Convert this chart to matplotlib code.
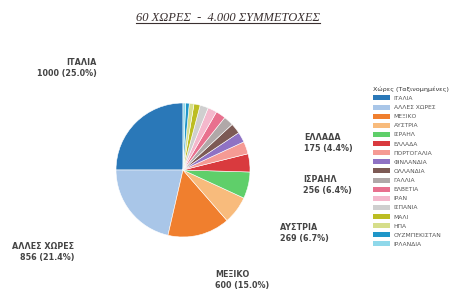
import matplotlib
matplotlib.use("Agg")
import matplotlib.pyplot as plt
from matplotlib.lines import Line2D

countries = ["ΙΤΑΛΙΑ", "ΑΛΛΕΣ ΧΩΡΕΣ", "ΜΕΞΙΚΟ", "ΑΥΣΤΡΙΑ", "ΙΣΡΑΗΛ", "ΕΛΛΑΔΑ",
             "ΠΟΡΤΟΓΑΛΙΑ", "ΦΙΝΛΑΝΔΙΑ", "ΟΛΛΑΝΔΙΑ", "ΓΑΛΛΙΑ", "ΕΛΒΕΤΙΑ", "ΙΡΑΝ",
             "ΙΣΠΑΝΙΑ", "ΜΑΛΙ", "ΗΠΑ", "ΟΥΖΜΠΕΚΙΣΤΑΝ", "ΙΡΛΑΝΔΙΑ"]
counts = [1000, 856, 600, 269, 256, 175, 120, 100, 100, 96, 95, 88, 80, 60, 45, 35, 25]
colors = ["#2a78b8", "#a9c6e8", "#f07f2e", "#f8bb7c", "#5fcf6a", "#d93a3e",
          "#f59a94", "#8f72c4", "#7d5a55", "#b0a8a8", "#e8708e", "#f4b8cc",
          "#cfcfcf", "#bcbd22", "#d6de8a", "#1f96c8", "#8fd8ea"]

# labelled slices: index -> (x px, y px, alignment)
label_pos = {0: (97, 68, "right"), 1: (74, 252, "right"), 2: (215, 280, "left"),
             3: (280, 233, "left"), 4: (303, 185, "left"), 5: (304, 143, "left")}

W, H = 453, 296
fig = plt.figure(figsize=(W / 100, H / 100), dpi=100)

cx, cy, r = 183, 170, 67
ax = fig.add_axes([(cx - r) / W, (H - cy - r) / H, 2 * r / W, 2 * r / H])
wedges, _ = ax.pie(counts, colors=colors, startangle=90, counterclock=True,
                   wedgeprops=dict(linewidth=0.4, edgecolor="white"))
ax.set_xlim(-1, 1)
ax.set_ylim(-1, 1)
ax.axis("off")

total = sum(counts)
for i, (px, py, ha) in label_pos.items():
    pct = 100 * counts[i] / total
    fig.text(px / W, 1 - py / H, f"{countries[i]}\n{counts[i]} ({pct:.1f}%)",
             ha=ha, va="center", fontsize=5.8, fontweight="bold", color="#444444",
             linespacing=1.15)

title = fig.text(228 / W, 1 - 18 / H, "60 ΧΩΡΕΣ  -  4.000 ΣΥΜΜΕΤΟΧΕΣ",
                 ha="center", va="center", fontsize=9, style="italic",
                 family="Liberation Serif", color="#3a3030")
fig.canvas.draw()
bb = title.get_window_extent().transformed(fig.transFigure.inverted())
fig.add_artist(Line2D([bb.x0, bb.x1], [bb.y0 + 0.004, bb.y0 + 0.004],
                      transform=fig.transFigure, color="#3a3030", linewidth=0.8))

leg = fig.legend(wedges, countries, title="Χώρες (Ταξινομημένες)",
                 loc="upper left", bbox_to_anchor=(371 / W, 1 - 84 / H),
                 frameon=False, fontsize=4.3, title_fontsize=4.6,
                 handlelength=2.8, handleheight=0.9, labelspacing=0.6,
                 handletextpad=0.6, borderaxespad=0, alignment="left")
for t in leg.get_texts():
    t.set_color("#555555")
for h in leg.legend_handles:
    h.set_edgecolor("none")
leg.get_title().set_color("#333333")

fig.savefig("out.png", dpi=100)
